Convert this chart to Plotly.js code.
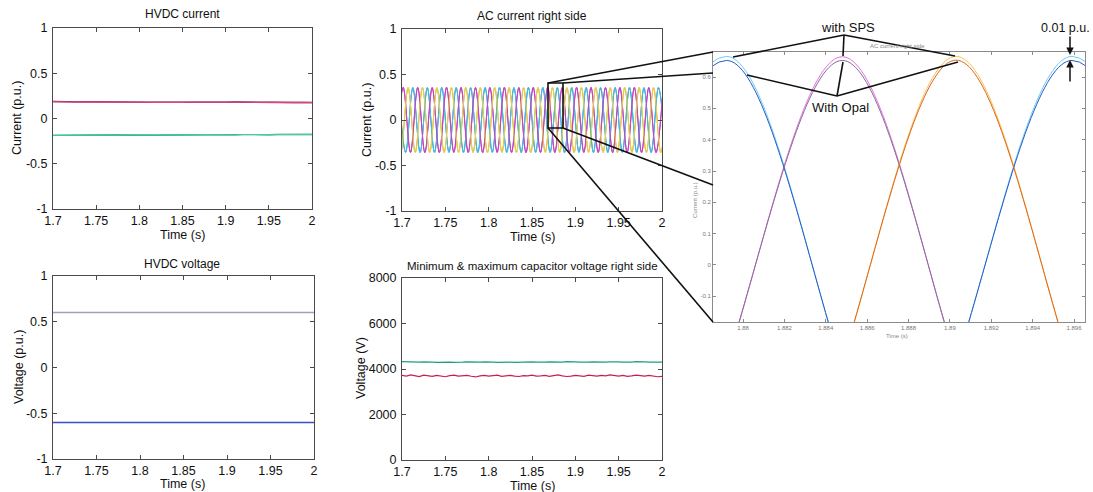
<!DOCTYPE html>
<html><head><meta charset="utf-8">
<script src="https://cdn.plot.ly/plotly-3.0.1.min.js"></script>
<style>html,body{margin:0;padding:0;background:#fff}#chart{width:1093px;height:492px}</style>
</head><body><div id="chart"></div>
<script>
// ---------------- data ----------------
const timeTicks = [1.7, 1.75, 1.8, 1.85, 1.9, 1.95, 2];
const timeTickText = ['1.7', '1.75', '1.8', '1.85', '1.9', '1.95', '2'];
const puTicks = [-1, -0.5, 0, 0.5, 1];
const puTickText = ['-1', '-0.5', '0', '0.5', '1'];
const voltTicks = [0, 2000, 4000, 6000, 8000];
const voltTickText = ['0', '2000', '4000', '6000', '8000'];
const zoomTimeTicks = [1.88, 1.882, 1.884, 1.886, 1.888, 1.89, 1.892, 1.894, 1.896];
const zoomTimeTickText = ['1.88', '1.882', '1.884', '1.886', '1.888', '1.89', '1.892', '1.894', '1.896'];
const zoomPuTicks = [-0.1, 0, 0.1, 0.2, 0.3, 0.4, 0.5, 0.6];
const zoomPuTickText = ['-0.1', '0', '0.1', '0.2', '0.3', '0.4', '0.5', '0.6'];

// HVDC current (p.u.)
const dcTime = [1.70,1.71,1.72,1.73,1.74,1.75,1.76,1.77,1.78,1.79,1.80,1.81,1.82,1.83,1.84,1.85,1.86,1.87,1.88,1.89,1.90,1.91,1.92,1.93,1.94,1.95,1.96,1.97,1.98,1.99,2.00];
const dcPosOpal = [0.188,0.184,0.182,0.184,0.185,0.183,0.181,0.183,0.184,0.182,0.181,0.180,0.182,0.184,0.182,0.180,0.181,0.183,0.182,0.180,0.181,0.182,0.180,0.178,0.179,0.181,0.178,0.176,0.178,0.179,0.177];
const dcPosSps  = [0.186,0.183,0.181,0.182,0.184,0.182,0.180,0.181,0.183,0.182,0.180,0.179,0.181,0.183,0.181,0.179,0.180,0.182,0.181,0.179,0.180,0.182,0.180,0.177,0.178,0.180,0.177,0.175,0.177,0.178,0.176];
const dcNegOpal = [-0.187,-0.185,-0.182,-0.184,-0.186,-0.183,-0.181,-0.183,-0.185,-0.182,-0.181,-0.183,-0.185,-0.182,-0.180,-0.182,-0.184,-0.181,-0.179,-0.181,-0.183,-0.180,-0.178,-0.180,-0.182,-0.179,-0.177,-0.178,-0.180,-0.178,-0.176];
const dcNegSps  = [-0.186,-0.184,-0.181,-0.183,-0.185,-0.182,-0.180,-0.182,-0.184,-0.181,-0.180,-0.182,-0.184,-0.181,-0.179,-0.181,-0.183,-0.180,-0.178,-0.180,-0.182,-0.179,-0.177,-0.179,-0.181,-0.178,-0.176,-0.177,-0.179,-0.177,-0.175];

// HVDC voltage (p.u.)
const dvTime = [1.70,1.75,1.80,1.85,1.90,1.95,2.00];
const dvPos = [0.601,0.600,0.600,0.601,0.600,0.601,0.600];
const dvNeg = [-0.601,-0.600,-0.601,-0.600,-0.601,-0.600,-0.601];

// AC current right side: extreme (peak / trough) instants of each phase
const acTimeA = [1.6959,1.7042,1.7125,1.7209,1.7292,1.7375,1.7459,1.7542,1.7625,1.7709,1.7792,1.7875,1.7959,1.8042,1.8125,1.8209,1.8292,1.8375,1.8459,1.8542,1.8625,1.8709,1.8792,1.8875,1.8959,1.9042,1.9125,1.9209,1.9292,1.9375,1.9459,1.9542,1.9625,1.9709,1.9792,1.9875,1.9959,2.0042];
const acTimeB = [1.6931,1.7014,1.7098,1.7181,1.7264,1.7348,1.7431,1.7514,1.7598,1.7681,1.7764,1.7848,1.7931,1.8014,1.8098,1.8181,1.8264,1.8348,1.8431,1.8514,1.8598,1.8681,1.8764,1.8848,1.8931,1.9014,1.9098,1.9181,1.9264,1.9348,1.9431,1.9514,1.9598,1.9681,1.9764,1.9848,1.9931,2.0014];
const acTimeC = [1.6903,1.6986,1.7070,1.7153,1.7236,1.7320,1.7403,1.7486,1.7570,1.7653,1.7736,1.7820,1.7903,1.7986,1.8070,1.8153,1.8236,1.8320,1.8403,1.8486,1.8570,1.8653,1.8736,1.8820,1.8903,1.8986,1.9070,1.9153,1.9236,1.9320,1.9403,1.9486,1.9570,1.9653,1.9736,1.9820,1.9903,1.9986,2.0070];
const acSpsA = [0.362,-0.360,0.361,-0.362,0.360,-0.361,0.362,-0.360,0.361,-0.361,0.360,-0.362,0.361,-0.360,0.362,-0.361,0.360,-0.362,0.361,-0.360,0.362,-0.361,0.360,-0.362,0.361,-0.360,0.362,-0.361,0.360,-0.362,0.361,-0.360,0.362,-0.361,0.360,-0.362,0.361,-0.360];
const acSpsB = [-0.361,0.362,-0.360,0.361,-0.362,0.360,-0.361,0.362,-0.360,0.361,-0.361,0.360,-0.362,0.361,-0.360,0.362,-0.361,0.360,-0.362,0.361,-0.360,0.362,-0.361,0.360,-0.362,0.361,-0.360,0.362,-0.361,0.360,-0.362,0.361,-0.360,0.362,-0.361,0.360,-0.362,0.361];
const acSpsC = [0.360,-0.362,0.361,-0.360,0.362,-0.361,0.360,-0.362,0.361,-0.360,0.362,-0.361,0.360,-0.362,0.361,-0.360,0.362,-0.361,0.360,-0.362,0.361,-0.360,0.362,-0.361,0.360,-0.362,0.361,-0.360,0.362,-0.361,0.360,-0.362,0.361,-0.360,0.362,-0.361,0.360,-0.362,0.361];
const acOpalA = [0.354,-0.352,0.353,-0.354,0.352,-0.353,0.354,-0.352,0.353,-0.353,0.352,-0.354,0.353,-0.352,0.354,-0.353,0.352,-0.354,0.353,-0.352,0.354,-0.353,0.352,-0.354,0.353,-0.352,0.354,-0.353,0.352,-0.354,0.353,-0.352,0.354,-0.353,0.352,-0.354,0.353,-0.352];
const acOpalB = [-0.353,0.354,-0.352,0.353,-0.354,0.352,-0.353,0.354,-0.352,0.353,-0.353,0.352,-0.354,0.353,-0.352,0.354,-0.353,0.352,-0.354,0.353,-0.352,0.354,-0.353,0.352,-0.354,0.353,-0.352,0.354,-0.353,0.352,-0.354,0.353,-0.352,0.354,-0.353,0.352,-0.354,0.353];
const acOpalC = [0.352,-0.354,0.353,-0.352,0.354,-0.353,0.352,-0.354,0.353,-0.352,0.354,-0.353,0.352,-0.354,0.353,-0.352,0.354,-0.353,0.352,-0.354,0.353,-0.352,0.354,-0.353,0.352,-0.354,0.353,-0.352,0.354,-0.353,0.352,-0.354,0.353,-0.352,0.354,-0.353,0.352,-0.354,0.353];

// Zoomed AC current
const zoomTimeA = [1.8709,1.8792,1.8875,1.8959,1.9042];
const zoomTimeB = [1.8681,1.8764,1.8848,1.8931,1.9014];
const zoomTimeC = [1.8736,1.8820,1.8903,1.8986,1.9070];
const zoomSpsA = [-0.665,0.666,-0.665,0.666,-0.665];
const zoomSpsB = [0.665,-0.665,0.665,-0.665,0.665];
const zoomSpsC = [0.666,-0.665,0.666,-0.665,0.666];
const zoomOpalA = [-0.653,0.653,-0.653,0.653,-0.653];
const zoomOpalB = [0.653,-0.653,0.653,-0.653,0.653];
const zoomOpalC = [0.654,-0.653,0.654,-0.653,0.654];

// Capacitor voltage (V)
const capTime = [1.700,1.705,1.710,1.715,1.720,1.725,1.730,1.735,1.740,1.745,1.750,1.755,1.760,1.765,1.770,1.775,1.780,1.785,1.790,1.795,1.800,1.805,1.810,1.815,1.820,1.825,1.830,1.835,1.840,1.845,1.850,1.855,1.860,1.865,1.870,1.875,1.880,1.885,1.890,1.895,1.900,1.905,1.910,1.915,1.920,1.925,1.930,1.935,1.940,1.945,1.950,1.955,1.960,1.965,1.970,1.975,1.980,1.985,1.990,1.995,2.000];
const capMax = [4320,4310,4300,4290,4300,4310,4320,4300,4290,4300, 4310,4300,4290,4280,4300,4310,4300,4290,4300,4310, 4320,4300,4290,4300,4310,4300,4290,4300,4310,4320, 4310,4300,4290,4300,4310,4300,4290,4300,4320,4330, 4310,4300,4290,4300,4310,4300,4290,4300,4310,4320, 4310,4300,4290,4300,4320,4330,4310,4300,4290,4300, 4300];
const capMin = [3720,3690,3740,3700,3670,3730,3710,3680,3720,3700, 3660,3710,3730,3690,3700,3720,3680,3650,3700,3720, 3690,3710,3730,3680,3700,3720,3690,3670,3710,3700, 3730,3690,3700,3720,3680,3710,3740,3700,3670,3690, 3720,3700,3680,3730,3710,3690,3720,3700,3740,3710, 3690,3720,3680,3700,3730,3710,3690,3720,3700,3660, 3680];

// ---------------- layout helpers ----------------
const W = 1093, H = 492;
const fx = p => p / W;
const fy = p => 1 - p / H;
const FONT = 'Liberation Sans, Arial, Helvetica, sans-serif';

function mainAxis(ticks, text, range, domain, anchor, standoff) {
  return {
    domain: domain, range: range, anchor: anchor,
    tickvals: ticks, ticktext: text,
    showgrid: false, zeroline: false,
    showline: true, mirror: 'ticks', linecolor: '#4a4a4a', linewidth: 1,
    ticks: 'inside', ticklen: 4, tickcolor: '#4a4a4a', tickwidth: 1,
    ticklabelstandoff: standoff,
    tickfont: {family: FONT, size: 12.5, color: '#111'}
  };
}
function zoomAxis(ticks, text, range, domain, anchor) {
  return {
    domain: domain, range: range, anchor: anchor,
    tickvals: ticks, ticktext: text,
    showgrid: false, zeroline: false,
    showline: true, mirror: 'ticks', linecolor: '#8a8a8a', linewidth: 1,
    ticks: 'inside', ticklen: 3, tickcolor: '#8a8a8a', tickwidth: 1,
    tickfont: {family: FONT, size: 6, color: '#777'}
  };
}
function line(x, y, xa, ya, color, width) {
  return {x: x, y: y, xaxis: xa, yaxis: ya, type: 'scatter', mode: 'lines',
          line: {color: color, width: width}, hoverinfo: 'skip'};
}
function wave(x, y, xa, ya, color, width) {
  return {x: x, y: y, xaxis: xa, yaxis: ya, type: 'scatter', mode: 'lines',
          line: {color: color, width: width, shape: 'spline', smoothing: 1}, hoverinfo: 'skip'};
}

const traces = [
  // HVDC current
  line(dcTime, dcPosOpal, 'x', 'y', '#4a2060', 1.4),
  line(dcTime, dcPosSps, 'x', 'y', '#e0407c', 1.3),
  line(dcTime, dcNegOpal, 'x', 'y', '#1c8a60', 1.4),
  line(dcTime, dcNegSps, 'x', 'y', '#3fd0a8', 1.1),
  // AC current right side
  wave(acTimeA, acOpalA, 'x2', 'y2', '#3a60c8', 1),
  wave(acTimeB, acOpalB, 'x2', 'y2', '#8a3aa0', 1),
  wave(acTimeC, acOpalC, 'x2', 'y2', '#e08a30', 1),
  wave(acTimeA, acSpsA, 'x2', 'y2', '#40c8dc', 1),
  wave(acTimeB, acSpsB, 'x2', 'y2', '#d040c8', 1),
  wave(acTimeC, acSpsC, 'x2', 'y2', '#e2d84c', 1),
  // HVDC voltage
  line(dvTime, dvPos, 'x3', 'y3', '#a89cb4', 1.5),
  line(dvTime, dvNeg, 'x3', 'y3', '#3a4cc8', 1.5),
  // capacitor voltage
  line(capTime, capMax, 'x4', 'y4', '#1e9e84', 1.2),
  line(capTime, capMin, 'x4', 'y4', '#c8204e', 1.2),
  // zoomed AC current
  wave(zoomTimeA, zoomSpsA, 'x5', 'y5', '#6cd0f2', 1),
  wave(zoomTimeB, zoomSpsB, 'x5', 'y5', '#e074e0', 1),
  wave(zoomTimeC, zoomSpsC, 'x5', 'y5', '#f2c452', 1),
  wave(zoomTimeA, zoomOpalA, 'x5', 'y5', '#2a58c8', 1),
  wave(zoomTimeB, zoomOpalB, 'x5', 'y5', '#8a6a98', 1),
  wave(zoomTimeC, zoomOpalC, 'x5', 'y5', '#e0641c', 1)
];

function ann(text, x, y, size, opts) {
  return Object.assign({text: text, x: fx(x), y: fy(y), xref: 'paper', yref: 'paper',
    showarrow: false, xanchor: 'center', yanchor: 'middle',
    font: {family: FONT, size: size, color: '#111'}}, opts || {});
}
function seg(x0, y0, x1, y1) {
  return {type: 'line', xref: 'paper', yref: 'paper', x0: fx(x0), y0: fy(y0), x1: fx(x1), y1: fy(y1),
          line: {color: '#111', width: 1.6}};
}

const annotations = [
  ann('HVDC current', 182, 14, 12),
  ann('AC current right side', 532, 16, 12),
  ann('HVDC voltage', 182, 264, 12),
  ann('Minimum &amp; maximum capacitor voltage right side', 532, 266, 11.5),
  ann('Time (s)', 182, 235, 12.5),
  ann('Time (s)', 532, 237, 12.5),
  ann('Time (s)', 182, 484, 12.5),
  ann('Time (s)', 532, 486, 12.5),
  ann('Current (p.u.)', 17, 118, 12.5, {textangle: -90}),
  ann('Current (p.u.)', 367, 120, 12.5, {textangle: -90}),
  ann('Voltage (p.u.)', 19, 367, 12.5, {textangle: -90}),
  ann('Voltage (V)', 361, 368, 12.5, {textangle: -90}),
  ann('AC current right side', 897, 46, 6, {font: {family: FONT, size: 6, color: '#888'}}),
  ann('Time (s)', 897, 336, 6, {font: {family: FONT, size: 6, color: '#888'}}),
  ann('Current (p.u.)', 695, 200, 6, {textangle: -90, font: {family: FONT, size: 6, color: '#888'}}),
  ann('with SPS', 848, 27, 13),
  ann('With Opal', 840, 108, 13),
  ann('0.01 p.u.', 1065, 28, 12.5),
  {text: '', x: fx(1070), y: fy(55), xref: 'paper', yref: 'paper', showarrow: true,
   ax: 0, ay: -20, arrowhead: 2, arrowsize: 1, arrowwidth: 1.5, arrowcolor: '#111'},
  {text: '', x: fx(1070), y: fy(60), xref: 'paper', yref: 'paper', showarrow: true,
   ax: 0, ay: 23, arrowhead: 2, arrowsize: 1, arrowwidth: 1.5, arrowcolor: '#111'}
];

const shapes = [
  // zoom window on the AC plot
  {type: 'rect', xref: 'paper', yref: 'paper', x0: fx(548), x1: fx(563), y0: fy(128), y1: fy(83),
   line: {color: '#111', width: 1.6}},
  // connectors to the enlarged view
  seg(548, 83, 713, 52),
  seg(563, 83, 713, 73),
  seg(563, 128, 713, 185),
  seg(548, 128, 713, 322),
  // "with SPS" pointers
  seg(844, 35, 733, 57),
  seg(844, 35, 843, 56),
  seg(844, 35, 955, 56),
  // "With Opal" pointers
  seg(837, 96, 747, 75),
  seg(837, 96, 843, 62),
  seg(837, 96, 958, 62)
];

const layout = {
  width: W, height: H,
  margin: {l: 0, r: 0, t: 0, b: 0},
  paper_bgcolor: '#fff', plot_bgcolor: '#fff',
  showlegend: false,
  font: {family: FONT, size: 12, color: '#111'},
  xaxis:  mainAxis(timeTicks, timeTickText, [1.7, 2], [fx(53), fx(312)], 'y', 0),
  yaxis:  mainAxis(puTicks, puTickText, [-1, 1], [fy(209), fy(28)], 'x', 2),
  xaxis2: mainAxis(timeTicks, timeTickText, [1.7, 2], [fx(402), fx(662)], 'y2', 0),
  yaxis2: mainAxis(puTicks, puTickText, [-1, 1], [fy(211), fy(29)], 'x2', 2),
  xaxis3: mainAxis(timeTicks, timeTickText, [1.7, 2], [fx(53), fx(314)], 'y3', 0),
  yaxis3: mainAxis(puTicks, puTickText, [-1, 1], [fy(459), fy(276)], 'x3', 2),
  xaxis4: mainAxis(timeTicks, timeTickText, [1.7, 2], [fx(402), fx(662)], 'y4', 0),
  yaxis4: mainAxis(voltTicks, voltTickText, [0, 8000], [fy(460), fy(278)], 'x4', 2),
  xaxis5: zoomAxis(zoomTimeTicks, zoomTimeTickText, [1.87855, 1.89653], [fx(713), fx(1085)], 'y5'),
  yaxis5: zoomAxis(zoomPuTicks, zoomPuTickText, [-0.182, 0.68], [fy(322), fy(52)], 'x5'),
  annotations: annotations,
  shapes: shapes
};

Plotly.newPlot('chart', traces, layout, {staticPlot: true, displayModeBar: false});
</script></body></html>
